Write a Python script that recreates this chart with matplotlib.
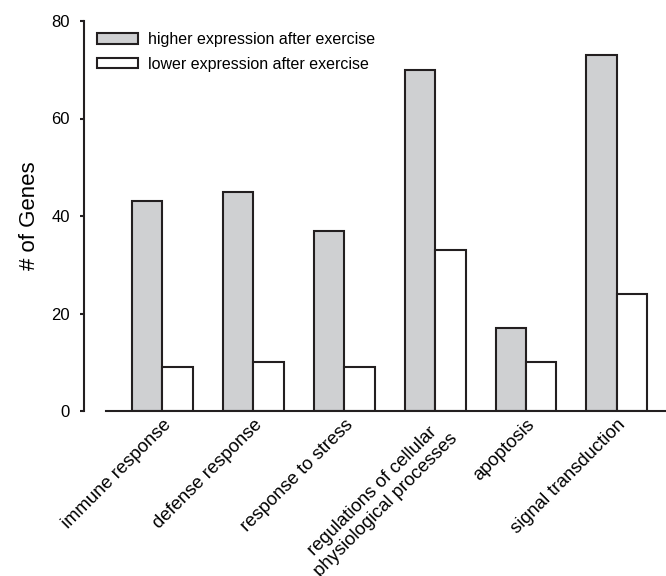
import matplotlib

matplotlib.use("Agg")
import matplotlib.pyplot as plt
import numpy as np

plt.rcParams["font.family"] = ["Liberation Sans", "DejaVu Sans"]

CATEGORIES = [
    "immune response",
    "defense response",
    "response to stress",
    "regulations of cellular\nphysiological processes",
    "apoptosis",
    "signal transduction",
]
HIGHER = [43, 45, 37, 70, 17, 73]
LOWER = [9, 10, 9, 33, 10, 24]

GRAY = "#cfd0d2"
INK = "#231f20"

fig = plt.figure(figsize=(6.66, 5.76), dpi=100)
ax = fig.add_axes([106 / 666, 1 - 411 / 576, 1 - 106 / 666, (411 - 21) / 576])

x = np.arange(len(CATEGORIES))
w = 0.335
ax.bar(x - w / 2, HIGHER, width=w, color=GRAY, edgecolor=INK, linewidth=1.5,
       label="higher expression after exercise")
ax.bar(x + w / 2, LOWER, width=w, color="white", edgecolor=INK, linewidth=1.5,
       label="lower expression after exercise")

ax.set_xlim(-0.62, 5.54)
ax.set_ylim(0, 80)
ax.set_yticks([0, 20, 40, 60, 80])
ax.tick_params(axis="y", direction="out", length=3, width=1.5, color=INK,
               labelsize=12, pad=7)
ax.tick_params(axis="x", length=0, labelsize=13.3, pad=4)
ax.set_xticks(x)
ax.set_xticklabels(CATEGORIES, rotation=45, ha="right", rotation_mode="anchor",
                   multialignment="center")

for s in ("top", "right"):
    ax.spines[s].set_visible(False)
ax.spines["left"].set_position(("outward", 16))
for s in ("left", "bottom"):
    ax.spines[s].set_linewidth(1.5)
    ax.spines[s].set_color(INK)

ax.set_ylabel("# of Genes", fontsize=16, labelpad=8)

ax.legend(loc="upper left", bbox_to_anchor=(-0.016, 0.972), frameon=False,
          fontsize=11.5, handlelength=2.57, handleheight=0.63, labelspacing=0.6,
          handletextpad=0.63, borderaxespad=0, borderpad=0)

fig.savefig("out.png", dpi=100, facecolor="white")
